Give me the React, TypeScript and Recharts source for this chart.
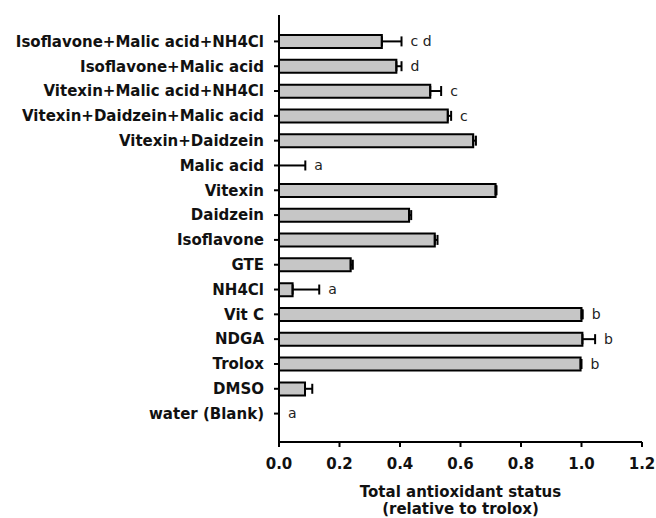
import React from 'react';
import { ComposedChart, Bar, ErrorBar, Scatter, LabelList, XAxis, YAxis, Label } from 'recharts';

const categories = [
  'Isoflavone+Malic acid+NH4Cl',
  'Isoflavone+Malic acid',
  'Vitexin+Malic acid+NH4Cl',
  'Vitexin+Daidzein+Malic acid',
  'Vitexin+Daidzein',
  'Malic acid',
  'Vitexin',
  'Daidzein',
  'Isoflavone',
  'GTE',
  'NH4Cl',
  'Vit C',
  'NDGA',
  'Trolox',
  'DMSO',
  'water (Blank)',
];
const values = [0.340, 0.388, 0.500, 0.558, 0.642, 0, 0.716, 0.430, 0.515, 0.237, 0.045, 1.0, 1.003, 0.997, 0.086, 0];
const errors = [0.065, 0.017, 0.036, 0.011, 0.009, 0.087, 0.003, 0.007, 0.009, 0.007, 0.088, 0.004, 0.042, 0.003, 0.024, 0];
const letters = ['c d', 'd', 'c', 'c', '', 'a', '', '', '', '', 'a', 'b', 'b', 'b', '', 'a'];
const xTicks = [0, 0.2, 0.4, 0.6, 0.8, 1.0, 1.2];

const data = categories.map((name, i) => ({
  name,
  value: values[i],
  err: [0, errors[i]],
  top: values[i] + errors[i],
  sig: letters[i],
}));

const FONT = '"DejaVu Sans", Arial, sans-serif';

const LetterLabel = (props: any) => {
  const { x, y, width, height, value } = props;
  if (!value) return null;
  const cx = x + (width || 0) / 2;
  const cy = y + (height || 0) / 2;
  return (
    <text x={cx + 9} y={cy} dy="0.35em" fontFamily={FONT} fontSize={14} fill="#222" textAnchor="start">
      {value}
    </text>
  );
};

const AxisTitle = (props: any) => {
  const vb = props.viewBox || {};
  const cx = vb.x + vb.width / 2;
  return (
    <g>
      <text x={cx} y={vb.y + 55} textAnchor="middle" fontFamily={FONT} fontWeight="bold" fontSize={15} fill="#111">
        Total antioxidant status
      </text>
      <text x={cx} y={vb.y + 72} textAnchor="middle" fontFamily={FONT} fontWeight="bold" fontSize={15} fill="#111">
        (relative to trolox)
      </text>
    </g>
  );
};

const Nothing = () => <g />;

export default function App() {
  return (
    <div style={{ position: 'absolute', left: 0, top: 0, background: '#fff' }}>
      <ComposedChart
        width={656}
        height={518}
        data={data}
        layout="vertical"
        margin={{ top: 15, right: 14, bottom: 0, left: 0 }}
      >
        <XAxis
          type="number"
          domain={[0, 1.2]}
          ticks={xTicks}
          tickFormatter={(v: number) => v.toFixed(1)}
          height={76}
          tickSize={5}
          tickMargin={11}
          axisLine={{ stroke: '#000', strokeWidth: 2 }}
          tickLine={{ stroke: '#000', strokeWidth: 2 }}
          tick={{ fontFamily: FONT, fontWeight: 'bold', fontSize: 15, fill: '#111' }}
          interval={0}
        >
          <Label content={<AxisTitle />} />
        </XAxis>
        <YAxis
          type="category"
          dataKey="name"
          width={279}
          tickSize={5}
          tickMargin={10}
          padding={{ top: 14, bottom: 16 }}
          axisLine={{ stroke: '#000', strokeWidth: 2 }}
          tickLine={{ stroke: '#000', strokeWidth: 2 }}
          tick={{ fontFamily: FONT, fontWeight: 'bold', fontSize: 15, fill: '#111' }}
          interval={0}
        />
        <Bar dataKey="value" fill="#c6c6c6" stroke="#000" strokeWidth={2} barSize={13} isAnimationActive={false} />
        <Scatter dataKey="value" shape={<Nothing />} isAnimationActive={false}>
          <ErrorBar dataKey="err" direction="x" width={5} stroke="#000" strokeWidth={2} />
        </Scatter>
        <Scatter dataKey="top" shape={<Nothing />} isAnimationActive={false}>
          <LabelList dataKey="sig" content={<LetterLabel />} />
        </Scatter>
      </ComposedChart>
    </div>
  );
}
